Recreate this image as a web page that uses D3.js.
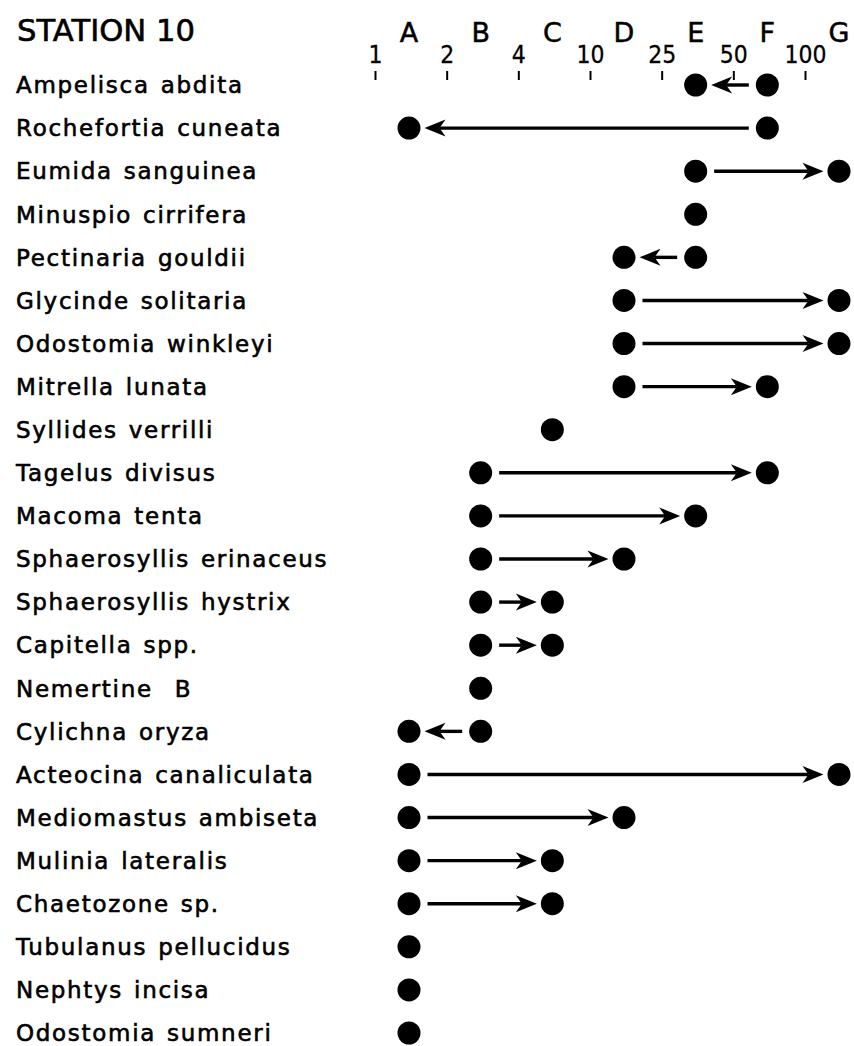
<!DOCTYPE html>
<html>
<head>
<meta charset="utf-8">
<script src="https://cdn.jsdelivr.net/npm/d3@7"></script>
<style>
  body { margin: 0; background: #fff; }
  svg text { font-family: "DejaVu Sans", sans-serif; fill: #000; }
</style>
</head>
<body>
<div id="chart"></div>
<script>
// ********** STATION 10 CHART **********

const title = "STATION 10";
const categories = ["A", "B", "C", "D", "E", "F", "G"];
const tickLabels = ["1", "2", "4", "10", "25", "50", "100"];

const species = [
	"Ampelisca abdita", "Rochefortia cuneata", "Eumida sanguinea", "Minuspio cirrifera",
	"Pectinaria gouldii", "Glycinde solitaria", "Odostomia winkleyi", "Mitrella lunata",
	"Syllides verrilli", "Tagelus divisus", "Macoma tenta", "Sphaerosyllis erinaceus",
	"Sphaerosyllis hystrix", "Capitella spp.", "Nemertine  B", "Cylichna oryza",
	"Acteocina canaliculata", "Mediomastus ambiseta", "Mulinia lateralis", "Chaetozone sp.",
	"Tubulanus pellucidus", "Nephtys incisa", "Odostomia sumneri"
];
// category where the arrow starts, and where it ends (same = single dot)
const fromCat = ["F", "F", "E", "E", "E", "D", "D", "D", "C", "B", "B", "B", "B", "B", "B", "B", "A", "A", "A", "A", "A", "A", "A"];
const toCat   = ["E", "A", "G", "E", "D", "G", "G", "F", "C", "F", "E", "D", "C", "C", "B", "A", "G", "D", "C", "C", "A", "A", "A"];

const width = 854, height = 1046;
const r = 11.5;

const svg = d3.select("#chart")
	.append("svg")
	.attr("width", width)
	.attr("height", height);

// scales
const x = d3.scalePoint().domain(categories).range([409, 839]);
const xTick = d3.scalePoint().domain(tickLabels).range([375, 805]);
const y = d3.scalePoint().domain(species).range([85, 1033]);

// title
svg.append("text")
	.attr("x", 17)
	.attr("y", 41)
	.attr("textLength", 178)
	.attr("lengthAdjust", "spacingAndGlyphs")
	.style("font-size", "31px")
	.style("stroke", "#000")
	.style("stroke-width", 0.6)
	.text(title);

// category letters
svg.selectAll("text.cat")
	.data(categories)
	.enter()
	.append("text")
	.attr("class", "cat")
	.attr("x", d => x(d))
	.attr("y", 42)
	.attr("text-anchor", "middle")
	.style("font-size", "27px")
	.style("stroke", "#000")
	.style("stroke-width", 0.5)
	.text(d => d);

// tick scale on top
const axis = d3.axisTop(xTick).tickSize(9).tickPadding(8);
const axisG = svg.append("g")
	.attr("transform", "translate(0,80)")
	.call(axis);
axisG.attr("font-size", null).attr("font-family", null);
axisG.select(".domain").remove();
axisG.selectAll(".tick line").attr("stroke", "#000").attr("stroke-width", 2);
axisG.selectAll(".tick text")
	.attr("fill", "#000")
	.attr("transform", "scale(0.88,1)")
	.style("font-size", "25px")
	.style("stroke", "#000")
	.style("stroke-width", 0.3);

// species labels
svg.selectAll("text.label")
	.data(species)
	.enter()
	.append("text")
	.attr("class", "label")
	.attr("x", 16)
	.attr("y", d => y(d))
	.attr("dy", "0.36em")
	.style("font-size", "23px")
	.style("letter-spacing", "1.7px")
	.style("word-spacing", "2px")
	.style("white-space", "pre")
	.style("stroke", "#000")
	.style("stroke-width", 0.6)
	.text(d => d);

// arrows
const rows = species.map((s, i) => ({ name: s, from: fromCat[i], to: toCat[i] }));
const moves = rows.filter(d => d.from !== d.to);

const headLen = 21, headW = 8.5, notch = 6;

const arrowG = svg.selectAll("g.arrow")
	.data(moves)
	.enter()
	.append("g")
	.attr("class", "arrow");

arrowG.append("line")
	.attr("x1", d => {
		const dir = Math.sign(x(d.to) - x(d.from));
		return x(d.from) + dir * (r + 7);
	})
	.attr("x2", d => {
		const dir = Math.sign(x(d.to) - x(d.from));
		return x(d.to) - dir * (r + 4 + headLen - notch);
	})
	.attr("y1", d => y(d.name))
	.attr("y2", d => y(d.name))
	.attr("stroke", "#000")
	.attr("stroke-width", 3.4);

arrowG.append("path")
	.attr("d", d => {
		const dir = Math.sign(x(d.to) - x(d.from));
		const tip = x(d.to) - dir * (r + 4);
		const cy = y(d.name);
		const p = d3.path();
		p.moveTo(tip, cy);
		p.lineTo(tip - dir * headLen, cy - headW);
		p.lineTo(tip - dir * (headLen - notch), cy);
		p.lineTo(tip - dir * headLen, cy + headW);
		p.closePath();
		return p.toString();
	})
	.attr("fill", "#000");

// dots
const dots = [];
rows.forEach(d => {
	dots.push({ name: d.name, cat: d.from });
	if (d.to !== d.from) dots.push({ name: d.name, cat: d.to });
});

svg.selectAll("circle.dot")
	.data(dots)
	.enter()
	.append("circle")
	.attr("class", "dot")
	.attr("cx", d => x(d.cat))
	.attr("cy", d => y(d.name))
	.attr("r", r)
	.style("fill", "#000");
</script>
</body>
</html>
